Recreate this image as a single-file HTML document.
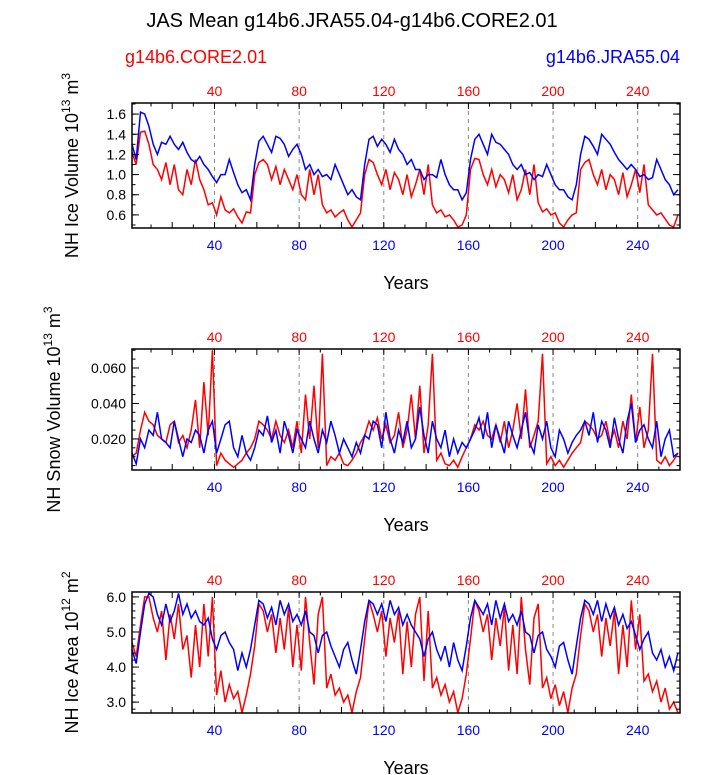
<!DOCTYPE html>
<html><head><meta charset="utf-8"><style>
body{margin:0;background:#fff;}
svg{display:block;font-family:"Liberation Sans",sans-serif;}
</style></head><body>
<svg id="chart" width="723" height="775" viewBox="0 0 723 775">
<text x="352" y="27" font-size="20" text-anchor="middle">JAS Mean g14b6.JRA55.04-g14b6.CORE2.01</text>
<text x="125" y="63" font-size="18" fill="#ff0000">g14b6.CORE2.01</text>
<text x="680" y="63" font-size="18" fill="#0000ff" text-anchor="end">g14b6.JRA55.04</text>
</svg>
<script>
const years = [];
for (let y = 1; y <= 259; y += 2) years.push(y);
const xTicks = [40, 80, 120, 160, 200, 240];

const iceVolBlue = [1.3,1.15,1.62,1.6,1.48,1.3,1.2,1.32,1.3,1.38,1.3,1.25,1.32,1.22,1.15,1.12,1.18,1.1,1.05,0.98,0.92,1.0,1.0,1.15,1.02,0.9,0.82,0.85,0.75,
1.1,1.33,1.38,1.3,1.22,1.38,1.36,1.3,1.18,1.25,1.3,1.2,1.05,1.1,1.0,1.05,0.98,1.0,0.95,1.1,1.0,0.9,0.8,0.85,0.78,0.75,
1.1,1.35,1.38,1.28,1.35,1.3,1.22,1.35,1.25,1.2,1.1,1.15,1.05,1.05,0.95,1.0,1.0,0.97,1.15,1.0,0.9,0.85,0.85,0.75,0.82,
1.15,1.35,1.4,1.3,1.2,1.4,1.32,1.3,1.25,1.2,1.1,1.05,1.1,1.0,1.02,0.95,1.0,0.98,1.1,1.0,0.9,0.85,0.85,0.78,0.75,0.9,
1.2,1.38,1.35,1.28,1.2,1.4,1.35,1.3,1.22,1.15,1.1,1.05,1.1,1.05,0.98,1.0,0.95,0.97,1.15,1.05,0.95,0.9,0.8,0.85];
const iceVolRed = [1.22,1.1,1.42,1.43,1.3,1.1,1.05,0.95,1.12,0.9,1.1,0.85,0.8,1.05,0.9,1.15,0.95,0.85,0.7,0.72,0.6,0.78,0.65,0.62,0.66,0.58,0.52,0.63,0.62,
1.0,1.12,1.15,1.1,0.95,1.08,0.9,1.05,0.95,0.85,1.0,0.8,0.75,1.05,0.8,1.0,0.7,0.62,0.65,0.58,0.62,0.65,0.55,0.48,0.55,0.62,
1.0,1.15,1.12,1.0,0.9,1.05,0.85,1.02,0.95,0.8,1.0,0.78,0.9,1.05,0.8,1.1,0.7,0.62,0.65,0.58,0.6,0.55,0.48,0.5,0.6,
1.05,1.16,1.15,1.0,0.9,1.05,0.88,1.0,0.95,0.82,1.0,0.75,0.85,1.05,0.8,1.1,0.72,0.63,0.66,0.6,0.62,0.52,0.48,0.55,0.6,0.62,
1.05,1.12,1.15,1.0,0.9,1.05,0.85,1.0,0.95,0.8,1.02,0.78,0.9,1.05,0.82,1.1,0.7,0.65,0.6,0.62,0.56,0.5,0.48,0.6];
const snowBlue = [0.012,0.006,0.02,0.015,0.025,0.022,0.035,0.02,0.018,0.015,0.03,0.02,0.01,0.02,0.018,0.025,0.022,0.012,0.025,0.03,0.012,0.02,0.028,0.03,0.015,0.01,0.022,0.012,0.008,
0.015,0.025,0.022,0.033,0.018,0.025,0.012,0.03,0.022,0.012,0.025,0.02,0.015,0.03,0.02,0.012,0.025,0.018,0.03,0.022,0.012,0.02,0.015,0.01,0.018,0.012,
0.022,0.02,0.03,0.028,0.015,0.035,0.02,0.012,0.025,0.018,0.03,0.015,0.02,0.038,0.022,0.012,0.03,0.02,0.015,0.025,0.01,0.02,0.012,0.018,0.015,
0.02,0.025,0.032,0.02,0.035,0.015,0.028,0.02,0.012,0.03,0.022,0.015,0.025,0.035,0.018,0.012,0.028,0.02,0.03,0.015,0.01,0.025,0.02,0.012,0.018,0.022,
0.025,0.03,0.022,0.035,0.018,0.03,0.025,0.015,0.032,0.02,0.012,0.03,0.04,0.018,0.025,0.028,0.02,0.015,0.03,0.01,0.02,0.025,0.01,0.012];
const snowRed = [0.01,0.012,0.025,0.035,0.03,0.028,0.022,0.02,0.018,0.028,0.03,0.018,0.022,0.015,0.025,0.042,0.015,0.052,0.022,0.07,0.005,0.012,0.008,0.006,0.004,0.006,0.008,0.012,0.015,
0.02,0.03,0.028,0.025,0.02,0.03,0.022,0.018,0.025,0.015,0.03,0.012,0.045,0.02,0.05,0.015,0.068,0.005,0.01,0.008,0.012,0.006,0.005,0.008,0.012,0.018,
0.022,0.03,0.025,0.032,0.02,0.028,0.018,0.022,0.035,0.015,0.025,0.045,0.02,0.05,0.012,0.028,0.068,0.008,0.012,0.006,0.005,0.008,0.004,0.01,0.015,
0.02,0.028,0.025,0.03,0.022,0.02,0.028,0.018,0.03,0.015,0.025,0.04,0.02,0.048,0.015,0.022,0.03,0.068,0.006,0.01,0.005,0.008,0.004,0.008,0.012,0.015,
0.018,0.03,0.028,0.025,0.02,0.022,0.03,0.018,0.025,0.015,0.03,0.02,0.045,0.018,0.038,0.015,0.025,0.068,0.008,0.006,0.01,0.005,0.008,0.012];
const areaBlue = [4.5,4.1,5.0,5.8,6.1,6.0,5.5,5.2,5.8,5.3,5.6,6.1,5.5,5.8,5.4,5.6,5.3,5.2,5.4,4.8,4.5,4.9,5.0,4.7,4.5,3.9,4.4,4.0,4.5,
5.2,5.9,5.8,5.4,5.7,5.2,5.9,5.5,5.8,5.3,5.5,5.2,5.6,5.0,4.9,4.4,4.9,5.0,4.6,4.3,4.0,4.5,4.7,4.2,3.8,4.5,
5.3,5.9,5.8,5.5,5.8,5.3,5.9,5.5,5.7,5.2,5.5,5.2,5.0,4.8,4.3,4.8,5.0,4.5,4.2,4.6,4.0,4.7,4.2,3.9,4.6,
5.4,5.9,5.7,5.5,5.8,5.2,5.9,5.4,5.8,5.3,5.5,5.2,5.6,5.0,4.9,4.4,4.9,5.0,4.5,4.3,4.0,4.6,4.7,4.2,3.8,4.6,
5.4,5.9,5.8,5.5,5.9,5.3,5.8,5.4,5.7,5.2,5.5,5.1,5.3,4.9,4.5,4.8,5.0,4.4,4.2,4.5,4.0,4.3,3.9,4.4];
const areaRed = [4.7,4.3,5.2,6.0,6.0,5.4,5.0,5.6,4.2,5.5,4.8,5.8,4.5,4.9,3.7,5.2,4.0,5.8,4.3,6.0,3.2,3.9,3.0,3.5,3.1,3.3,2.7,3.2,3.8,
4.6,5.8,5.6,5.0,5.5,4.4,5.4,4.5,5.7,4.0,5.2,3.9,6.0,4.7,3.5,5.5,6.0,3.4,3.8,3.2,3.4,3.0,3.2,2.7,3.3,3.7,
4.8,5.9,5.5,5.0,5.6,4.3,5.4,4.7,5.6,3.8,5.3,4.0,5.5,6.0,3.6,5.6,3.4,3.7,3.2,3.5,3.0,3.3,2.7,3.1,3.8,
4.8,5.9,5.6,5.0,5.5,4.2,5.4,4.6,5.7,3.9,5.2,3.8,6.0,4.5,3.5,5.4,5.8,3.4,3.7,3.1,3.5,2.9,3.3,2.7,3.4,3.8,
4.9,5.8,5.6,5.0,5.5,4.3,5.4,4.6,5.6,3.8,5.2,4.0,5.9,4.5,5.5,3.6,3.8,3.3,3.6,3.0,3.4,2.8,3.0,2.7];

const iceVolTicks = ["0.6","0.8","1.0","1.2","1.4","1.6"];
const snowTicks = ["0.020","0.040","0.060"];
const areaTicks = ["3.0","4.0","5.0","6.0"];

const NS = "http://www.w3.org/2000/svg";
const svg = document.getElementById("chart");
function mk(tag, attrs, parent) {
  const e = document.createElementNS(NS, tag);
  for (const k in attrs) e.setAttribute(k, attrs[k]);
  (parent || svg).appendChild(e);
  return e;
}

function panel(cfg) {
  const g = mk("g", {});
  
  
  const L = 132, R = 680, T = cfg.top, B = cfg.bottom;
  const xs = v => L + (v - 1) * (R - L) / 259;
  const ys = v => B - (v - cfg.ymin) * (B - T) / (cfg.ymax - cfg.ymin);
  // dashed grid lines
  xTicks.forEach(t => {
    const l = mk("line", {x1: xs(t), x2: xs(t), y1: T, y2: B, stroke: "#888", "stroke-width": 1, "stroke-dasharray": "4,4"}, g);
    
    
  });
  // series
  [[cfg.red, "#ff0000", "core-series"], [cfg.blue, "#0000ff", "jra-series"]].forEach(([arr, col, nm]) => {
    const pts = arr.map((v, i) => xs(years[i]).toFixed(1) + "," + ys(v).toFixed(1)).join(" ");
    const p = mk("polyline", {points: pts, fill: "none", stroke: col, "stroke-width": 1.5}, g);
    
    
  });
  // x ticks
  for (let t = 10; t <= 259; t += 10) {
    const len = t % 20 === 0 ? 6 : 3.5;
    mk("line", {x1: xs(t), x2: xs(t), y1: T, y2: T + len, stroke: "#000"}, g);
    mk("line", {x1: xs(t), x2: xs(t), y1: B, y2: B - len, stroke: "#000"}, g);
  }
  xTicks.forEach(t => {
    const a = mk("text", {x: xs(t), y: T - 7, "font-size": 14, fill: "#ff0000", "text-anchor": "middle"}, g);
    a.textContent = t;
    
    
    const b = mk("text", {x: xs(t), y: B + 22, "font-size": 14, fill: "#0000ff", "text-anchor": "middle"}, g);
    b.textContent = t;
    
    
  });
  // y ticks
  for (let v = cfg.minorStart; v <= cfg.ymax + 1e-9; v += cfg.minor) {
    mk("line", {x1: L, x2: L + 3.5, y1: ys(v), y2: ys(v), stroke: "#000"}, g);
    mk("line", {x1: R, x2: R - 3.5, y1: ys(v), y2: ys(v), stroke: "#000"}, g);
  }
  cfg.ticks.forEach(s => {
    const v = parseFloat(s);
    mk("line", {x1: L, x2: L + 7, y1: ys(v), y2: ys(v), stroke: "#000"}, g);
    mk("line", {x1: R, x2: R - 7, y1: ys(v), y2: ys(v), stroke: "#000"}, g);
    const t = mk("text", {x: L - 6, y: ys(v) + 5, "font-size": 14, "text-anchor": "end"}, g);
    t.textContent = s;
    
    
  });
  const box = mk("rect", {x: L, y: T, width: R - L, height: B - T, fill: "none", stroke: "#000", "stroke-width": 1.5}, g);
  
  
  const xt = mk("text", {x: 406, y: B + 61, "font-size": 18, "text-anchor": "middle"}, g);
  xt.textContent = "Years";
  
  
  const cy = (T + B) / 2;
  const yt = mk("text", {x: 0, y: 0, "font-size": 18, "text-anchor": "middle", transform: "translate(" + cfg.ylx + "," + cy + ") rotate(-90)"}, g);
  yt.innerHTML = cfg.ylabel + ' 10<tspan dy="-8" font-size="12">' + cfg.exp + '</tspan><tspan dy="8"> m</tspan><tspan dy="-8" font-size="12">' + cfg.unitExp + '</tspan>';
  
  
}

panel({name: "ice-volume-panel", top: 103, bottom: 228, ymin: 0.47, ymax: 1.71, red: iceVolRed, blue: iceVolBlue,
  ticks: iceVolTicks, minor: 0.1, minorStart: 0.5, ylx: 78, ylabel: "NH Ice Volume", exp: "13", unitExp: "3"});
panel({name: "snow-volume-panel", top: 349, bottom: 470, ymin: 0.0025, ymax: 0.0707, red: snowRed, blue: snowBlue,
  ticks: snowTicks, minor: 0.005, minorStart: 0.005, ylx: 60, ylabel: "NH Snow Volume", exp: "13", unitExp: "3"});
panel({name: "ice-area-panel", top: 592, bottom: 713, ymin: 2.69, ymax: 6.14, red: areaRed, blue: areaBlue,
  ticks: areaTicks, minor: 0.2, minorStart: 2.8, ylx: 78, ylabel: "NH Ice Area", exp: "12", unitExp: "2"});
</script>
</body></html>
